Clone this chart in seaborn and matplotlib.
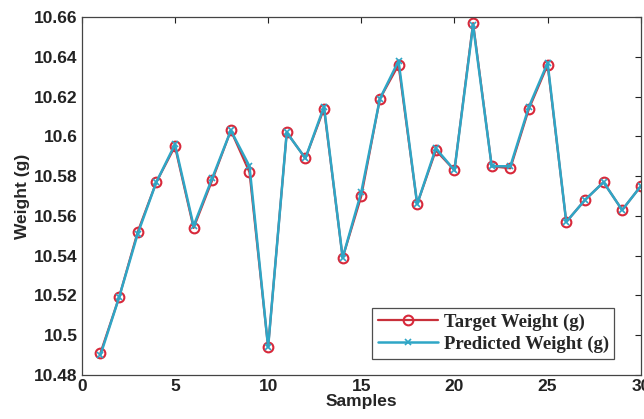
import matplotlib
matplotlib.use("Agg")
import matplotlib.pyplot as plt
import seaborn as sns
import pandas as pd
import numpy as np

samples = list(range(1, 31))
target = [10.491, 10.519, 10.552, 10.577, 10.595, 10.554, 10.578, 10.603, 10.582, 10.494,
          10.602, 10.589, 10.614, 10.539, 10.570, 10.619, 10.636, 10.566, 10.593, 10.583,
          10.657, 10.585, 10.584, 10.614, 10.636, 10.557, 10.568, 10.577, 10.563, 10.575]
predicted = [10.490, 10.519, 10.551, 10.577, 10.596, 10.555, 10.579, 10.603, 10.585, 10.494,
             10.602, 10.589, 10.615, 10.539, 10.572, 10.619, 10.638, 10.566, 10.594, 10.583,
             10.656, 10.585, 10.585, 10.615, 10.637, 10.557, 10.568, 10.577, 10.563, 10.575]
yticks = [10.48, 10.5, 10.52, 10.54, 10.56, 10.58, 10.6, 10.62, 10.64, 10.66]
ytick_labels = ["10.48", "10.5", "10.52", "10.54", "10.56", "10.58", "10.6", "10.62", "10.64", "10.66"]
xticks = [0, 5, 10, 15, 20, 25, 30]

sns.set_style("white")
plt.rcParams['font.family'] = ['Liberation Sans', 'DejaVu Sans']

df = pd.DataFrame({"Samples": samples, "target": target, "predicted": predicted})

fig = plt.figure(figsize=(6.44, 4.19), dpi=100)
ax = fig.add_axes([0.127, 0.105, 0.868, 0.854])

sns.lineplot(data=df, x="Samples", y="target", ax=ax, color="#C8303A", lw=1.6,
             marker="o", markersize=7, markerfacecolor="none", markeredgecolor="#D8283A",
             markeredgewidth=1.5, label="Target Weight (g)")
sns.lineplot(data=df, x="Samples", y="predicted", ax=ax, color="#2FA6C6", lw=1.8,
             marker="x", markersize=5, markeredgecolor="#2FA6C6", markeredgewidth=1.2,
             label="Predicted Weight (g)")

ax.set_xlim(0, 30)
ax.set_ylim(10.48, 10.66)
ax.set_xticks(xticks)
ax.set_yticks(yticks)
ax.set_yticklabels(ytick_labels)
ax.tick_params(direction="in", top=True, right=True, length=4, width=0.8,
               labelsize=12.5, colors="#222222", pad=3)
for lab in ax.get_xticklabels() + ax.get_yticklabels():
    lab.set_fontweight("bold")
for s in ax.spines.values():
    s.set_color("#444444")
    s.set_linewidth(0.9)
ax.set_xlabel("Samples", fontsize=12.5, fontweight="bold", labelpad=0)
ax.set_ylabel("Weight (g)", fontsize=12.5, fontweight="bold", labelpad=3)

leg = ax.legend(loc="lower right", bbox_to_anchor=(0.963, 0.03), frameon=True, fancybox=False,
                prop={"family": "Liberation Serif", "weight": "bold", "size": 13.5},
                handlelength=3.2, borderpad=0.3, labelspacing=0.25, handletextpad=0.3,
                borderaxespad=0.3)
leg.get_frame().set_edgecolor("#222222")
leg.get_frame().set_linewidth(0.9)

fig.savefig("out.png", dpi=100)
